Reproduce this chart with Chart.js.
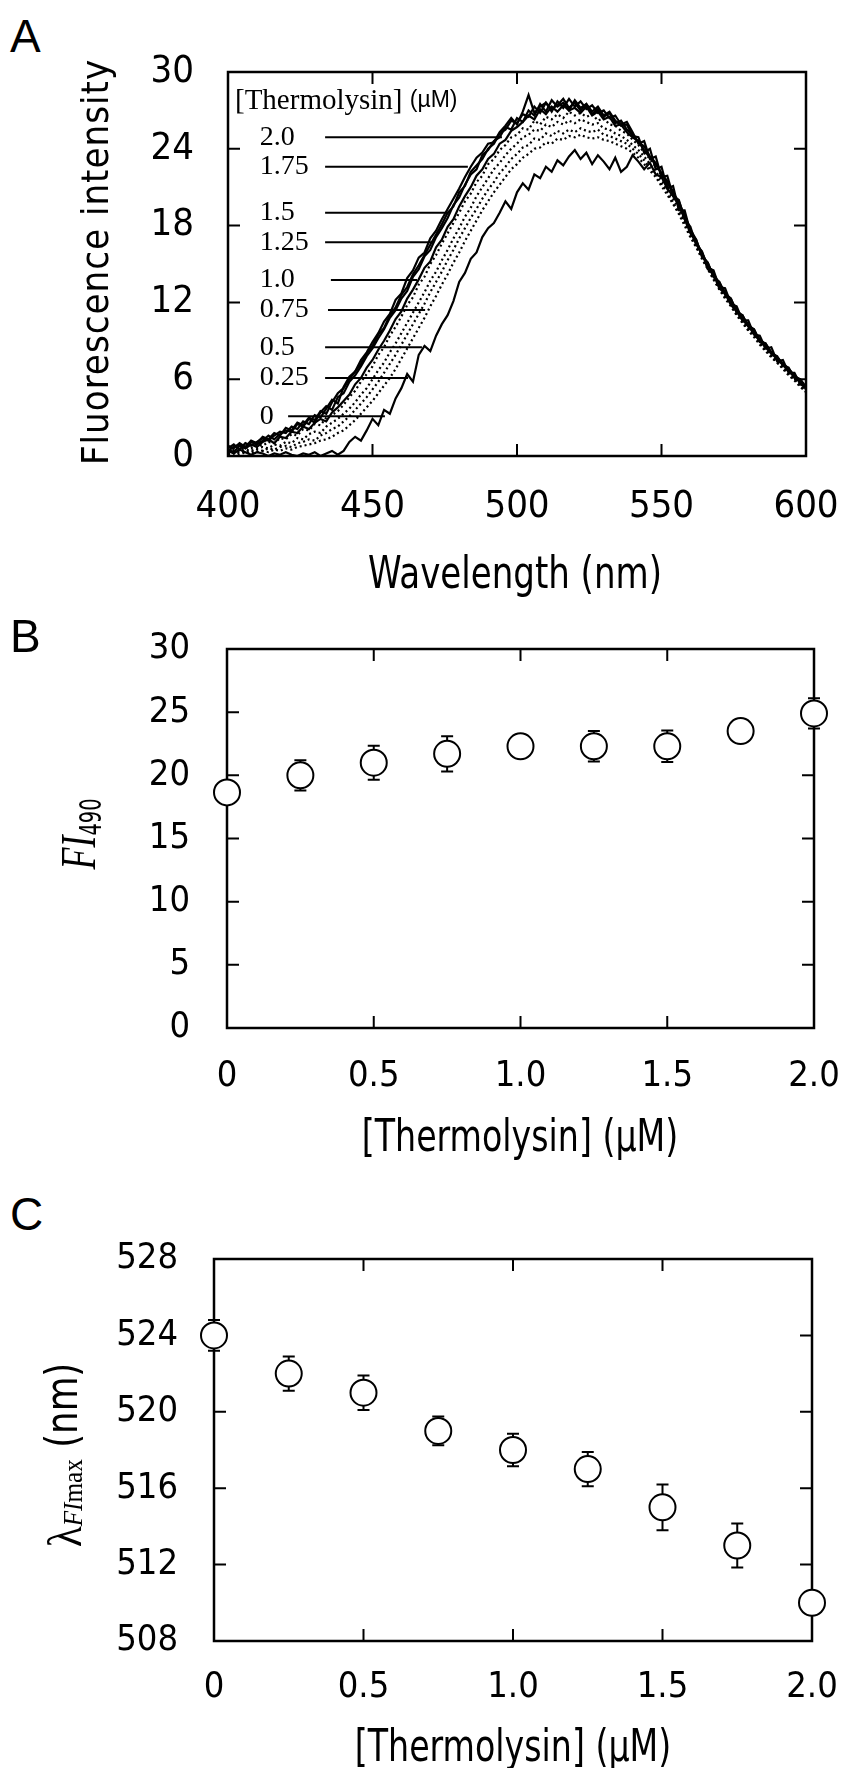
<!DOCTYPE html>
<html>
<head>
<meta charset="utf-8">
<script src="https://cdn.jsdelivr.net/npm/chart.js@4.4.1/dist/chart.umd.min.js"></script>
<style>
  html, body { margin: 0; padding: 0; background: #fff; }
  body { width: 842px; height: 1768px; position: relative; overflow: hidden; }
  canvas { position: absolute; left: 0; }
  .panel { position: absolute; left: 10px; font: 46px 'Liberation Sans', Arial, sans-serif; line-height: 46px; color: #000; }
</style>
</head>
<body>
<div class="panel" style="top:13px">A</div>
<canvas id="spectra" width="842" height="620" style="top:0"></canvas>
<div class="panel" style="top:613px">B</div>
<canvas id="intensity" width="842" height="580" style="top:600px"></canvas>
<div class="panel" style="top:1191px">C</div>
<canvas id="peak" width="842" height="588" style="top:1180px"></canvas>
<script>
// emission spectra, 400-600 nm sampled every 2 nm
const wavelengths = Array.from({ length: 101 }, (_, i) => 400 + 2 * i);

const spectrum0 = [
  0.4, 0.2, 0.5, 0.3, 0.1, 0.3, 0.2, 0.0, 0.2, 0.1,
  0.3, 0.1, 0.0, 0.2, 0.1, 0.3, 0.0, 0.2, 0.4, 0.1,
  0.4, 1.1, 1.5, 1.2, 2.0, 2.9, 2.4, 3.6, 3.3, 4.5,
  5.3, 6.4, 5.8, 7.9, 8.6, 8.2, 9.4, 10.3, 11.0, 12.1,
  13.6, 14.3, 15.4, 15.9, 17.1, 17.8, 18.2, 19.0, 19.9, 19.3,
  20.6, 21.3, 20.8, 22.0, 21.7, 22.6, 22.2, 23.1, 22.7, 23.4,
  23.9, 23.2, 23.7, 22.8, 23.5, 23.0, 22.4, 23.3, 22.2, 22.6,
  23.5, 23.0, 22.4, 22.9, 22.0, 21.8, 20.9, 20.3, 19.6, 18.5,
  17.4, 16.7, 15.9, 14.6, 14.2, 13.1, 12.7, 11.8, 11.3, 10.6,
  10.2, 9.5, 9.0, 8.5, 8.0, 7.6, 7.1, 6.6, 6.2, 5.8,
  5.3
];
const spectrum025 = [
  0.1, 0.2, 0.1, 0.3, 0.2, 0.3, 0.4, 0.3, 0.5, 0.4,
  0.6, 0.5, 0.7, 0.8, 0.9, 1.0, 1.2, 1.3, 1.5, 1.8,
  2.0, 2.4, 2.8, 3.3, 3.8, 4.3, 4.9, 5.5, 6.1, 6.8,
  7.6, 8.4, 9.2, 10.0, 10.8, 11.7, 12.5, 13.4, 14.2, 15.1,
  15.9, 16.8, 17.6, 18.4, 19.2, 19.9, 20.6, 21.2, 21.8, 22.4,
  22.8, 23.3, 23.6, 24.0, 24.1, 24.5, 24.4, 24.8, 24.7, 25.0,
  24.9, 25.1, 24.9, 24.8, 24.9, 24.7, 24.6, 24.4, 24.2, 24.0,
  23.7, 23.3, 22.8, 22.3, 21.8, 21.1, 20.4, 19.7, 18.9, 18.0,
  17.1, 16.3, 15.4, 14.6, 13.8, 13.0, 12.3, 11.7, 11.0, 10.4,
  9.8, 9.3, 8.7, 8.2, 7.7, 7.3, 6.8, 6.3, 5.9, 5.4,
  5.0
];
const spectrum05 = [
  0.1, 0.3, 0.2, 0.4, 0.3, 0.5, 0.4, 0.6, 0.5, 0.7,
  0.8, 0.7, 1.0, 1.1, 1.3, 1.2, 1.6, 1.8, 2.1, 2.3,
  2.7, 3.1, 3.6, 4.1, 4.6, 5.2, 5.8, 6.5, 7.2, 7.9,
  8.7, 9.5, 10.3, 11.1, 11.9, 12.8, 13.6, 14.4, 15.3, 16.1,
  17.0, 17.8, 18.6, 19.3, 20.1, 20.8, 21.4, 22.1, 22.6, 23.2,
  23.6, 24.1, 24.3, 24.8, 24.7, 25.2, 25.0, 25.4, 25.2, 25.5,
  25.3, 25.6, 25.4, 25.3, 25.5, 25.1, 25.0, 24.8, 24.6, 24.4,
  24.0, 23.6, 23.1, 22.5, 22.0, 21.3, 20.6, 19.8, 19.0, 18.2,
  17.2, 16.4, 15.5, 14.7, 13.8, 13.1, 12.4, 11.8, 11.1, 10.5,
  9.9, 9.4, 8.8, 8.3, 7.8, 7.3, 6.9, 6.4, 6.0, 5.5,
  5.0
];
const spectrum075 = [
  0.2, 0.4, 0.3, 0.5, 0.4, 0.6, 0.7, 0.6, 0.9, 0.8,
  1.1, 1.0, 1.4, 1.3, 1.7, 1.9, 1.8, 2.3, 2.6, 2.9,
  3.3, 3.7, 4.2, 4.8, 5.3, 6.0, 6.7, 7.3, 8.1, 8.8,
  9.6, 10.4, 11.2, 12.0, 12.8, 13.7, 14.4, 15.3, 16.1, 17.0,
  17.8, 18.7, 19.4, 20.3, 21.0, 21.7, 22.4, 22.9, 23.5, 24.0,
  24.4, 24.9, 25.1, 25.5, 25.4, 25.9, 25.7, 26.1, 25.9, 26.2,
  26.0, 26.3, 26.1, 25.9, 26.0, 25.6, 25.5, 25.2, 25.0, 24.7,
  24.3, 23.9, 23.4, 22.8, 22.2, 21.6, 20.8, 20.1, 19.3, 18.4,
  17.4, 16.5, 15.6, 14.8, 14.0, 13.2, 12.5, 11.9, 11.2, 10.6,
  10.0, 9.5, 8.9, 8.4, 7.9, 7.4, 7.0, 6.5, 6.1, 5.6,
  5.1
];
const spectrum10 = [
  0.5, 0.3, 0.8, 0.6, 0.9, 0.7, 1.1, 1.3, 1.0, 1.5,
  1.4, 1.9, 1.8, 2.3, 2.1, 2.6, 2.9, 2.7, 3.4, 3.8,
  4.3, 4.8, 5.6, 6.1, 6.9, 7.5, 8.3, 9.0, 9.8, 10.7,
  11.3, 12.3, 13.0, 13.8, 14.7, 15.2, 16.3, 16.9, 17.9, 18.5,
  19.5, 20.3, 21.0, 21.9, 22.4, 23.2, 23.6, 24.4, 24.7, 25.4,
  25.7, 26.1, 26.6, 26.3, 27.1, 26.7, 27.3, 26.9, 27.4, 27.0,
  27.2, 26.8, 27.3, 26.6, 26.9, 26.3, 26.5, 25.8, 25.9, 25.3,
  24.9, 24.6, 23.9, 23.3, 22.8, 22.1, 21.3, 20.7, 19.6, 18.9,
  17.6, 16.6, 15.9, 14.9, 14.3, 13.4, 12.8, 12.1, 11.5, 10.8,
  10.3, 9.7, 9.1, 8.7, 8.1, 7.7, 7.2, 6.8, 6.3, 5.9,
  5.3
];
const spectrum125 = [
  0.8, 0.6, 1.0, 0.7, 1.2, 1.0, 1.5, 1.3, 1.8, 1.6,
  2.2, 2.0, 2.6, 2.4, 3.0, 2.8, 3.5, 3.3, 4.2, 4.9,
  5.3, 6.0, 6.6, 7.2, 8.0, 8.6, 9.5, 10.0, 11.0, 11.6,
  12.6, 13.2, 14.2, 14.9, 15.7, 16.5, 17.3, 18.1, 19.0, 19.5,
  20.6, 21.1, 22.2, 22.7, 23.2, 24.0, 24.4, 25.2, 25.5, 26.2,
  26.0, 26.7, 26.5, 27.3, 26.8, 27.6, 27.1, 27.4, 27.9, 27.2,
  27.6, 27.0, 27.5, 26.7, 27.1, 26.5, 26.8, 26.0, 26.2, 25.5,
  25.1, 24.5, 24.2, 23.4, 22.9, 22.0, 21.5, 20.5, 19.9, 18.7,
  17.7, 16.9, 15.6, 15.1, 14.0, 13.6, 12.7, 12.3, 11.3, 11.0,
  10.2, 9.9, 9.0, 8.8, 8.1, 7.7, 7.2, 6.8, 6.2, 6.0,
  5.4
];
const spectrum15 = [
  0.3, 0.5, 0.4, 0.7, 0.6, 0.9, 0.8, 1.1, 1.0, 1.4,
  1.3, 1.7, 1.6, 2.1, 2.0, 2.5, 2.4, 3.0, 3.2, 3.5,
  4.0, 4.6, 5.1, 5.8, 6.4, 7.0, 7.9, 8.5, 9.4, 10.1,
  10.9, 11.8, 12.4, 13.4, 14.0, 15.0, 15.7, 16.6, 17.4, 18.2,
  19.0, 19.9, 20.5, 21.4, 21.9, 22.8, 23.2, 23.9, 24.3, 24.9,
  25.1, 25.6, 25.5, 26.2, 25.9, 26.5, 26.3, 26.7, 26.4, 26.9,
  26.6, 26.8, 26.5, 26.7, 26.2, 26.4, 25.9, 25.8, 25.4, 25.2,
  24.7, 24.3, 23.7, 23.2, 22.6, 21.9, 21.1, 20.4, 19.6, 18.6,
  17.5, 16.7, 15.8, 14.9, 14.1, 13.4, 12.6, 12.1, 11.3, 10.8,
  10.1, 9.6, 9.0, 8.6, 8.0, 7.6, 7.1, 6.7, 6.2, 5.8,
  5.2
];
const spectrum175 = [
  0.4, 0.7, 0.9, 0.6, 1.1, 0.9, 1.2, 1.6, 1.3, 1.7,
  2.0, 1.9, 2.5, 2.3, 2.9, 2.6, 3.4, 3.9, 3.6, 4.6,
  4.9, 5.8, 6.3, 7.0, 7.8, 8.4, 9.2, 9.9, 10.8, 11.4,
  12.3, 12.9, 14.0, 14.6, 15.6, 16.1, 17.1, 17.8, 18.6, 19.6,
  20.2, 21.2, 22.0, 22.4, 23.5, 23.9, 24.6, 24.9, 25.7, 25.5,
  26.4, 26.1, 27.0, 26.6, 27.5, 26.9, 27.8, 27.3, 27.6, 27.0,
  27.8, 27.2, 27.5, 26.9, 27.3, 26.6, 26.9, 26.2, 25.8, 25.9,
  25.0, 24.9, 23.7, 24.0, 22.4, 22.6, 20.9, 21.1, 19.2, 19.2,
  17.5, 16.9, 15.6, 15.1, 14.0, 13.6, 12.6, 12.3, 11.2, 11.0,
  10.1, 9.9, 8.9, 8.8, 8.0, 7.8, 7.1, 6.9, 6.1, 6.0,
  5.2
];
const spectrum20 = [
  0.6, 0.9, 0.5, 1.0, 0.8, 1.1, 1.4, 1.2, 1.6, 1.9,
  1.8, 2.3, 2.1, 2.7, 2.5, 3.2, 3.0, 3.7, 4.4, 4.1,
  5.4, 6.2, 6.6, 7.5, 8.1, 8.9, 9.6, 10.5, 11.1, 12.2,
  12.7, 13.9, 14.5, 15.5, 15.9, 17.0, 17.6, 18.5, 19.3, 20.1,
  20.9, 21.8, 22.6, 23.3, 23.7, 24.4, 24.5, 25.3, 25.8, 26.4,
  25.9, 26.9, 28.2, 26.8, 27.3, 27.6, 26.9, 27.7, 27.2, 27.9,
  27.3, 27.7, 27.1, 27.4, 26.8, 27.0, 26.4, 26.6, 25.9, 26.1,
  25.3, 24.4, 24.6, 23.2, 23.4, 21.8, 21.9, 20.3, 20.0, 18.5,
  17.9, 16.5, 16.0, 14.7, 14.5, 13.2, 13.1, 11.9, 11.7, 10.6,
  10.6, 9.5, 9.4, 8.4, 8.5, 7.4, 7.5, 6.5, 6.5, 5.6,
  5.4
];

// labels written next to the spectra, with their leader lines (nm, intensity)
const legendConc = ['2.0', '1.75', '1.5', '1.25', '1.0', '0.75', '0.5', '0.25', '0'];
const legendLevel = [24.9, 22.6, 19.0, 16.7, 13.75, 11.4, 8.5, 6.1, 3.1];
const leaderFrom = [433.6, 433.6, 433.6, 433.6, 435.6, 434.6, 433.6, 433.6, 420.8];
const leaderTo = [494.8, 483.0, 476.8, 470.9, 465.4, 468.2, 467.1, 462.3, 454.3];

// thermolysin titration
const concentrations = [0, 0.25, 0.5, 0.75, 1.0, 1.25, 1.5, 1.75, 2.0];
const fi490 = [18.65, 20.0, 21.0, 21.7, 22.3, 22.3, 22.3, 23.5, 24.9];
const fi490Err = [0.6, 1.2, 1.35, 1.4, 0.6, 1.2, 1.25, 0.6, 1.2];
const lambdaMax = [524.0, 522.0, 521.0, 519.0, 518.0, 517.0, 515.0, 513.0, 510.0];
const lambdaMaxErr = [0.8, 0.9, 0.9, 0.75, 0.85, 0.9, 1.2, 1.15, 0.4];

// tick values and labels
const wlTicks = [400, 450, 500, 550, 600];
const wlTickLabels = ['400', '450', '500', '550', '600'];
const fiTicks = [0, 6, 12, 18, 24, 30];
const fiTickLabels = ['0', '6', '12', '18', '24', '30'];
const concTicks = [0, 0.5, 1.0, 1.5, 2.0];
const concTickLabels = ['0', '0.5', '1.0', '1.5', '2.0'];
const fi490Ticks = [0, 5, 10, 15, 20, 25, 30];
const fi490TickLabels = ['0', '5', '10', '15', '20', '25', '30'];
const lambdaTicks = [508, 512, 516, 520, 524, 528];
const lambdaTickLabels = ['508', '512', '516', '520', '524', '528'];

const NARROW = "'DejaVu Sans Condensed', 'DejaVu Sans', sans-serif";
const SERIF = "'Liberation Serif', 'DejaVu Serif', serif";
const TICK_LEN = 12;

function axis(min, max, values, labels, opts) {
  return {
    type: 'linear',
    min: min,
    max: max,
    grid: { display: false, drawTicks: false },
    border: { display: false },
    afterBuildTicks: (s) => { s.ticks = values.map(v => ({ value: v })); },
    afterFit: (s) => {
      if (opts.isX) s.height = opts.size; else s.width = opts.size;
      // keep edge labels from shrinking the plot area
      s.paddingLeft = s.paddingRight = s.paddingTop = s.paddingBottom = 0;
    },
    ticks: {
      color: '#000',
      autoSkip: false,
      maxRotation: 0,
      padding: opts.padding,
      font: { family: NARROW, size: opts.fontSize },
      callback: (v, i) => labels[i],
    },
  };
}

// box round the plot area with inward ticks on all four sides
const framePlugin = {
  id: 'frame',
  beforeDatasetsDraw(chart) {
    const { ctx, chartArea: a, scales } = chart;
    ctx.save();
    ctx.strokeStyle = '#000';
    ctx.lineWidth = 2.5;
    ctx.strokeRect(a.left, a.top, a.right - a.left, a.bottom - a.top);
    ctx.lineWidth = 2;
    ctx.beginPath();
    scales.x.ticks.forEach(t => {
      const px = scales.x.getPixelForValue(t.value);
      if (px - a.left < 2 || a.right - px < 2) return;
      ctx.moveTo(px, a.bottom); ctx.lineTo(px, a.bottom - TICK_LEN);
      ctx.moveTo(px, a.top); ctx.lineTo(px, a.top + TICK_LEN);
    });
    scales.y.ticks.forEach(t => {
      const py = scales.y.getPixelForValue(t.value);
      if (py - a.top < 2 || a.bottom - py < 2) return;
      ctx.moveTo(a.left, py); ctx.lineTo(a.left + TICK_LEN, py);
      ctx.moveTo(a.right, py); ctx.lineTo(a.right - TICK_LEN, py);
    });
    ctx.stroke();
    ctx.restore();
  },
};

// vertical error bars with caps, drawn under the open circles
const errorBarPlugin = {
  id: 'errorBars',
  beforeDatasetsDraw(chart, args, opts) {
    if (!opts.errors) return;
    const { ctx, scales } = chart;
    const pts = chart.data.datasets[0].data;
    ctx.save();
    ctx.strokeStyle = '#000';
    ctx.lineWidth = 2;
    ctx.beginPath();
    pts.forEach((p, i) => {
      const x = scales.x.getPixelForValue(p.x);
      const y1 = scales.y.getPixelForValue(p.y + opts.errors[i]);
      const y2 = scales.y.getPixelForValue(p.y - opts.errors[i]);
      ctx.moveTo(x, y1); ctx.lineTo(x, y2);
      ctx.moveTo(x - 6, y1); ctx.lineTo(x + 6, y1);
      ctx.moveTo(x - 6, y2); ctx.lineTo(x + 6, y2);
    });
    ctx.stroke();
    ctx.restore();
  },
};

// draws a run of text pieces, each with its own font and baseline shift;
// sx squeezes the run along its length
function drawRich(ctx, item) {
  ctx.save();
  ctx.translate(item.x, item.y);
  if (item.rotate) ctx.rotate(-Math.PI / 2);
  ctx.scale(item.sx || 1, 1);
  ctx.fillStyle = '#000';
  ctx.textBaseline = 'alphabetic';
  ctx.textAlign = 'left';
  ctx.letterSpacing = (item.spacing || 0) + 'px';
  let total = 0;
  item.parts.forEach(p => { ctx.font = p.font; total += ctx.measureText(p.text).width; });
  let cx = -total / 2;
  item.parts.forEach(p => {
    ctx.font = p.font;
    ctx.fillText(p.text, cx, p.dy || 0);
    cx += ctx.measureText(p.text).width;
  });
  ctx.restore();
}

const titlePlugin = {
  id: 'titles',
  afterDraw(chart, args, opts) {
    (opts.items || []).forEach(it => drawRich(chart.ctx, it));
  },
};

// concentration labels and heading inside panel A
const spectraLabelPlugin = {
  id: 'spectraLabels',
  afterDatasetsDraw(chart) {
    const { ctx, scales, chartArea: a } = chart;
    ctx.save();
    ctx.fillStyle = '#000';
    ctx.textBaseline = 'middle';
    ctx.font = '29px ' + SERIF;
    ctx.fillText('[Thermolysin]', a.left + 7, a.top + 29);
    const w = ctx.measureText('[Thermolysin] ').width;
    ctx.font = '23px ' + "'Liberation Sans', Arial, sans-serif";
    ctx.fillText('(µM)', a.left + 7 + w, a.top + 29);
    ctx.font = '28px ' + SERIF;
    legendConc.forEach((c, i) => {
      ctx.fillText(c, scales.x.getPixelForValue(411), scales.y.getPixelForValue(legendLevel[i]));
    });
    ctx.restore();
  },
};

Chart.register(framePlugin, errorBarPlugin, titlePlugin);

const base = {
  responsive: false,
  animation: false,
  events: [],
};

// --- A: spectra ---
const spectraList = [
  ['0', spectrum0], ['0.25', spectrum025], ['0.5', spectrum05], ['0.75', spectrum075],
  ['1.0', spectrum10], ['1.25', spectrum125], ['1.5', spectrum15], ['1.75', spectrum175],
  ['2.0', spectrum20],
];
const dotted = new Set(['0.25', '0.5', '0.75', '1.5']);

const spectraSets = spectraList.map(([conc, vals]) => ({
  label: conc + ' µM',
  data: wavelengths.map((w, i) => ({ x: w, y: vals[i] })),
  borderColor: '#000',
  borderWidth: 2.2,
  borderDash: dotted.has(conc) ? [2, 3] : [],
  pointRadius: 0,
  tension: 0,
  fill: false,
}));
const leaderSets = legendConc.map((c, i) => ({
  label: 'leader ' + c,
  data: [{ x: leaderFrom[i], y: legendLevel[i] }, { x: leaderTo[i], y: legendLevel[i] }],
  borderColor: '#000',
  borderWidth: 2,
  pointRadius: 0,
}));

new Chart(document.getElementById('spectra'), {
  type: 'line',
  data: { datasets: spectraSets.concat(leaderSets) },
  options: Object.assign({}, base, {
    layout: { padding: { top: 72, right: 36, left: 0, bottom: 0 } },
    scales: {
      x: axis(400, 600, wlTicks, wlTickLabels, { isX: true, size: 164, padding: 28, fontSize: 38 }),
      y: axis(0, 30, fiTicks, fiTickLabels, { isX: false, size: 228, padding: 34, fontSize: 38 }),
    },
    plugins: {
      legend: { display: false },
      tooltip: { enabled: false },
      titles: {
        items: [
          { parts: [{ text: 'Wavelength (nm)', font: '44px ' + NARROW }], x: 515, y: 588, sx: 0.86 },
          { parts: [{ text: 'Fluorescence intensity', font: '38px ' + NARROW }], x: 108, y: 262, rotate: true, spacing: 1 },
        ],
      },
    },
  }),
  plugins: [spectraLabelPlugin],
});

// open circle markers
function pointSet(xs, ys) {
  return [{
    data: xs.map((x, i) => ({ x: x, y: ys[i] })),
    showLine: false,
    pointStyle: 'circle',
    pointRadius: 13,
    pointBorderWidth: 2,
    pointBorderColor: '#000',
    pointBackgroundColor: '#fff',
    clip: false,
  }];
}

// --- B: intensity at 490 nm ---
new Chart(document.getElementById('intensity'), {
  type: 'scatter',
  data: { datasets: pointSet(concentrations, fi490) },
  options: Object.assign({}, base, {
    layout: { padding: { top: 49, right: 28, left: 0, bottom: 0 } },
    scales: {
      x: axis(0, 2, concTicks, concTickLabels, { isX: true, size: 152, padding: 27, fontSize: 36 }),
      y: axis(0, 30, fi490Ticks, fi490TickLabels, { isX: false, size: 227, padding: 37, fontSize: 36 }),
    },
    plugins: {
      legend: { display: false },
      tooltip: { enabled: false },
      errorBars: { errors: fi490Err },
      titles: {
        items: [
          { parts: [{ text: '[Thermolysin] (µM)', font: '44px ' + NARROW }], x: 520, y: 551, sx: 0.84 },
          { parts: [
              { text: 'FI', font: 'italic 50px ' + SERIF },
              { text: '490', font: '30px ' + NARROW, dy: 6 },
            ], x: 95, y: 234, rotate: true, sx: 0.72 },
        ],
      },
    },
  }),
});

// --- C: emission maximum ---
new Chart(document.getElementById('peak'), {
  type: 'scatter',
  data: { datasets: pointSet(concentrations, lambdaMax) },
  options: Object.assign({}, base, {
    layout: { padding: { top: 79, right: 30, left: 0, bottom: 0 } },
    scales: {
      x: axis(0, 2, concTicks, concTickLabels, { isX: true, size: 127, padding: 25, fontSize: 36 }),
      y: axis(508, 528, lambdaTicks, lambdaTickLabels, { isX: false, size: 214, padding: 36, fontSize: 36 }),
    },
    plugins: {
      legend: { display: false },
      tooltip: { enabled: false },
      errorBars: { errors: lambdaMaxErr },
      titles: {
        items: [
          { parts: [{ text: '[Thermolysin] (µM)', font: '44px ' + NARROW }], x: 513, y: 581, sx: 0.84 },
          { parts: [
              { text: 'λ', font: '48px ' + SERIF, dy: 4 },
              { text: 'FI', font: 'italic 28px ' + SERIF, dy: 5 },
              { text: 'max', font: '28px ' + SERIF, dy: 5 },
              { text: ' (nm)', font: '44px ' + NARROW },
            ], x: 77, y: 275, rotate: true, sx: 0.9 },
        ],
      },
    },
  }),
});
</script>
</body>
</html>
